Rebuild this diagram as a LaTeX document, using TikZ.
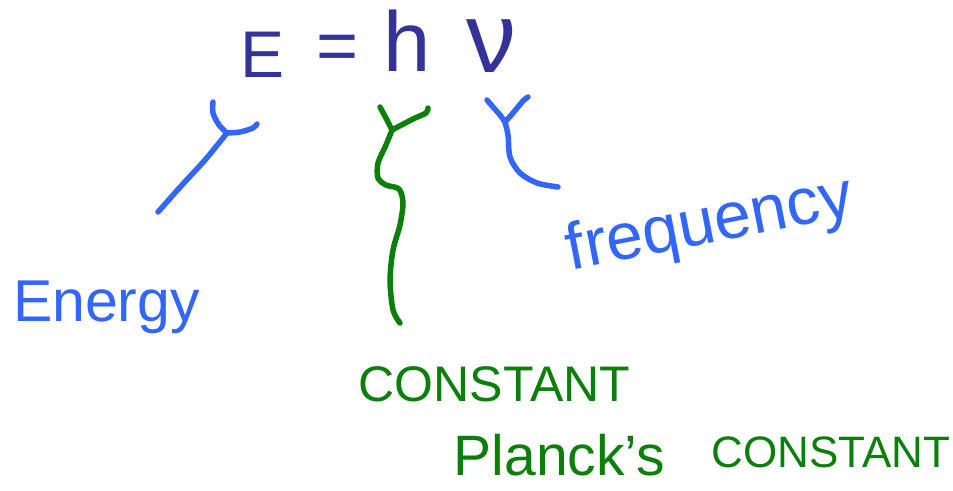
\documentclass[tikz,border=0pt]{standalone}
\usepackage{fontspec}
\setmainfont{Liberation Sans}
\definecolor{ink}{HTML}{333399}
\definecolor{lblue}{HTML}{3366FF}
\definecolor{pgreen}{HTML}{0A800A}
\newcommand\fsz[1]{\fontsize{#1}{#1}\selectfont}
\begin{document}
\begin{tikzpicture}[x=1pt,y=1pt,
  lab/.style={inner sep=0pt, outer sep=0pt},
  brace/.style={line width=5.5pt, line cap=round, line join=round}]
\fill[white] (0,0) rectangle (953,-490);
\useasboundingbox (0,0) rectangle (953,-490);
% equation
\node[lab, text=ink, font=\fsz{66}] (E) at (263,-54.5) {E};
\node[lab, text=ink, font=\fsz{72}] (eq) at (338,-53) {=};
\node[lab, text=ink, font=\fsz{85}] (h) at (407,-41) {h};
\node[lab, text=ink, font=\fsz{100}, inner sep=2pt] (nu) at (491,-46) {ν};
% labels
\node[lab, text=lblue, font=\fsz{59}] (energy) at (106.5,-307.5) {Energy};
\node[lab, text=lblue, font=\fsz{66}, rotate=11] (freq) at (710,-226) {frequency};
\node[lab, text=pgreen, font=\fsz{50}] (const) at (494.5,-384.5) {CONSTANT};
\node[lab, text=pgreen, font=\fsz{57}] (planck) at (559.5,-455.5) {Planck's};
\node[lab, text=pgreen, font=\fsz{44}] (const2) at (831,-452.5) {CONSTANT};
% brace junctions and ends
\coordinate (Ej) at (227,-133);
\coordinate (Eend) at (158,-212);
\coordinate (hj) at (392,-130);
\coordinate (hend) at (400,-323);
\coordinate (nj) at (505,-122);
\coordinate (nend) at (558,-187);
% E brace
\draw[brace, lblue] plot[smooth] coordinates {(213,-102) (213,-113) (219,-125) (Ej)};
\draw[brace, lblue] plot[smooth] coordinates {(257,-124) (253,-128) (240,-132) (Ej)};
\draw[brace, lblue] plot[smooth] coordinates {(Ej) (205,-160) (182,-185) (Eend)};
% h brace
\draw[brace, pgreen] plot[smooth] coordinates {(380,-107) (387,-120) (hj)};
\draw[brace, pgreen] plot[smooth] coordinates {(428,-108) (426,-113) (413,-119) (hj)};
\draw[brace, pgreen] plot[smooth] coordinates {(hj) (386,-145) (378,-163) (378,-178) (386,-185) (399,-189) (403,-203) (400,-225) (393,-250) (390,-280) (393,-310) (hend)};
% nu brace
\draw[brace, lblue] plot[smooth] coordinates {(487,-100) (493,-107) (500,-115) (nj)};
\draw[brace, lblue] plot[smooth] coordinates {(528,-97) (523,-101) (513,-113) (nj)};
\draw[brace, lblue] plot[smooth] coordinates {(nj) (508,-135) (510,-157) (520,-173) (537,-183) (nend)};
\end{tikzpicture}
\end{document}
